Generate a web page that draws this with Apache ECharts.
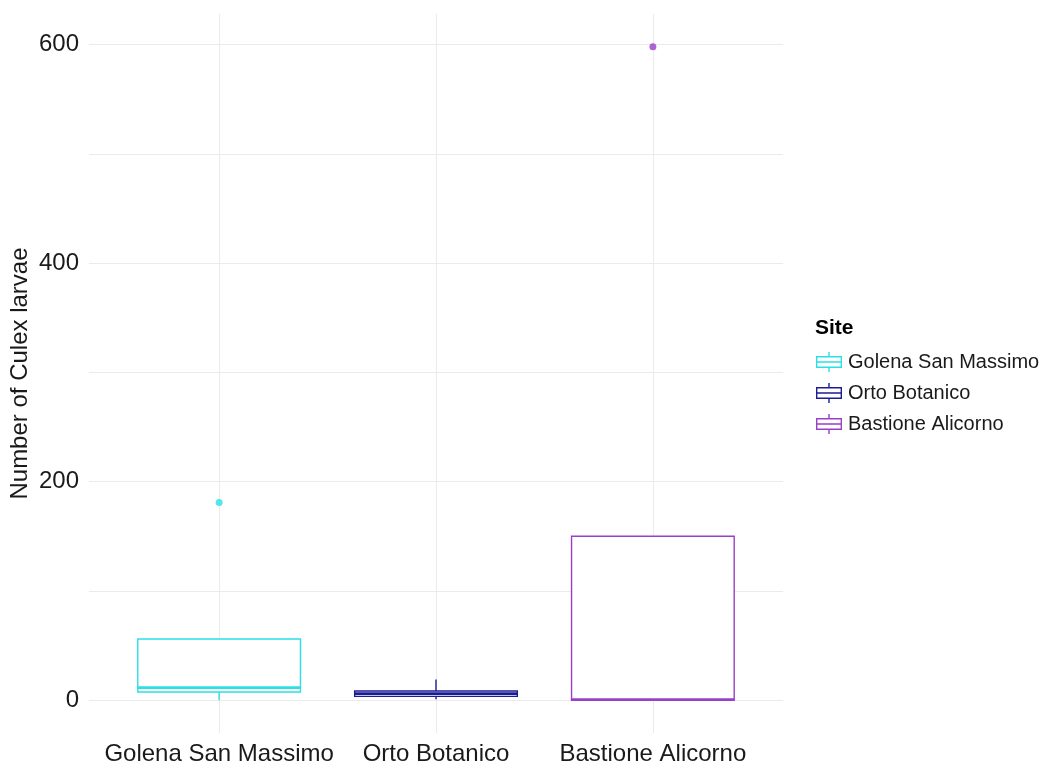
<!DOCTYPE html>
<html>
<head>
<meta charset="utf-8">
<title>Culex larvae by site</title>
<script src="https://cdn.jsdelivr.net/npm/echarts@6/dist/echarts.min.js"></script>
<style>
  html, body { margin: 0; padding: 0; background: #ffffff; }
  #chart { width: 1045px; height: 771px; }
</style>
</head>
<body>
<div id="chart"></div>
<script>
// Sites (x positions 0, 1, 2 on the panel)
const categories = ['Golena San Massimo', 'Orto Botanico', 'Bastione Alicorno'];
const siteColors = ['#2adfe6', '#1c1c96', '#9a3fc8'];

// Five-number summaries per site
const lowerWhisker = [0, 1, 0];
const q1Values = [7.5, 3.5, 0];
const medianValues = [11.5, 6, 0.5];
const q3Values = [56, 8.5, 150];
const upperWhisker = [56, 19, 150];

// Outlying counts: [site index, value]
const outliers = [[0, 181], [2, 598]];

// Axis ticks
const yLabelValues = [0, 200, 400, 600];
const yGridValues = [0, 100, 200, 300, 400, 500, 600];

const BOX_WIDTH = 0.75;
const FONT = '"Liberation Sans", Arial, sans-serif';

function renderBox(params, api) {
  const x = api.value(0);
  const lw = api.value(1), q1 = api.value(2), med = api.value(3), q3 = api.value(4), uw = api.value(5);
  const half = api.size([BOX_WIDTH, 0])[0] / 2;
  const color = api.visual('color');
  const pLw = api.coord([x, lw]);
  const pQ1 = api.coord([x, q1]);
  const pMed = api.coord([x, med]);
  const pQ3 = api.coord([x, q3]);
  const pUw = api.coord([x, uw]);
  const lineStyle = { stroke: color, lineWidth: 1.4, fill: null };
  return {
    type: 'group',
    children: [
      { type: 'line', shape: { x1: pUw[0], y1: pUw[1], x2: pQ3[0], y2: pQ3[1] }, style: lineStyle },
      { type: 'line', shape: { x1: pQ1[0], y1: pQ1[1], x2: pLw[0], y2: pLw[1] }, style: lineStyle },
      { type: 'rect', shape: { x: pQ3[0] - half, y: pQ3[1], width: half * 2, height: pQ1[1] - pQ3[1] },
        style: { stroke: color, lineWidth: 1.4, fill: '#ffffff' } },
      { type: 'line', shape: { x1: pMed[0] - half, y1: pMed[1], x2: pMed[0] + half, y2: pMed[1] },
        style: { stroke: color, lineWidth: 2.8 } }
    ]
  };
}

// Legend key: box with median line and whisker stubs
const keyPath = 'path://M12.3 0h1.4v4h-1.4Z M0 4h26v1.4h-26Z M0 14.6h26v1.4h-26Z M0 4h1.4v12h-1.4Z ' +
  'M24.6 4h1.4v12h-1.4Z M0 9.3h26v1.4h-26Z M12.3 16h1.4v4h-1.4Z';

const boxSeries = categories.map((name, i) => ({
  name: name,
  type: 'custom',
  renderItem: renderBox,
  itemStyle: { color: siteColors[i] },
  encode: { x: 0, y: [1, 2, 3, 4, 5] },
  data: [[i, lowerWhisker[i], q1Values[i], medianValues[i], q3Values[i], upperWhisker[i]]],
  z: 3
}));

const outlierSeries = categories.map((name, i) => ({
  name: name + ' (outliers)',
  type: 'scatter',
  symbolSize: 7,
  itemStyle: { color: siteColors[i] },
  data: outliers.filter(o => o[0] === i),
  z: 4
}));

const chart = echarts.init(document.getElementById('chart'), null, { renderer: 'canvas' });
chart.setOption({
  animation: false,
  backgroundColor: '#ffffff',
  textStyle: { fontFamily: FONT },
  grid: { left: 89, right: 262, top: 14, bottom: 38, containLabel: false, outerBoundsMode: 'none' },
  title: {
    text: 'Site',
    left: 810,
    top: 313,
    textStyle: { fontFamily: FONT, fontSize: 21, fontWeight: 'bold', color: '#000000' }
  },
  legend: {
    orient: 'vertical',
    left: 811,
    top: 347,
    itemWidth: 26,
    itemHeight: 20,
    itemGap: 11,
    textStyle: { fontFamily: FONT, fontSize: 20, color: '#1a1a1a', padding: [0, 0, 0, 1] },
    data: categories.map((name, i) => ({
      name: name,
      icon: keyPath,
      itemStyle: { color: siteColors[i], borderWidth: 0 }
    }))
  },
  xAxis: {
    type: 'value',
    min: -0.6,
    max: 2.6,
    axisLine: { show: false },
    axisTick: { show: false, customValues: [0, 1, 2] },
    axisLabel: {
      customValues: [0, 1, 2],
      formatter: v => categories[Math.round(v)],
      fontFamily: FONT,
      fontSize: 24,
      color: '#1a1a1a',
      margin: 9
    },
    splitLine: { show: true, lineStyle: { color: '#ebebeb', width: 1 } }
  },
  yAxis: {
    type: 'value',
    min: -30,
    max: 628,
    name: 'Number of Culex larvae',
    nameLocation: 'middle',
    nameGap: 57,
    nameMoveOverlap: false,
    nameTextStyle: { fontFamily: FONT, fontSize: 24, color: '#1a1a1a' },
    axisLine: { show: false },
    axisTick: { show: false, customValues: yGridValues },
    axisLabel: {
      customValues: yLabelValues,
      fontFamily: FONT,
      fontSize: 24,
      color: '#1a1a1a',
      margin: 10
    },
    splitLine: { show: true, lineStyle: { color: '#ebebeb', width: 1 } }
  },
  series: boxSeries.concat(outlierSeries)
});
</script>
</body>
</html>
